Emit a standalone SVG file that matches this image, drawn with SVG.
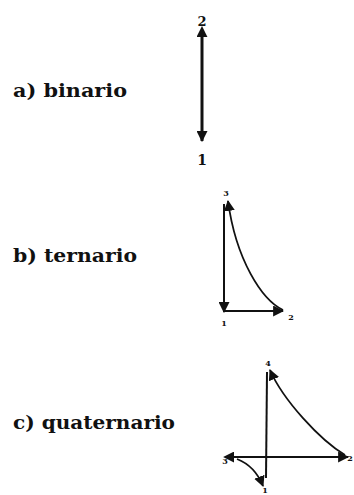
<svg xmlns="http://www.w3.org/2000/svg" width="354" height="495" viewBox="0 0 354 495">
<defs>
<style>
.lbl{font-family:"DejaVu Serif","Liberation Serif",serif;font-weight:bold;font-size:19px;fill:#111}
.num{font-family:"DejaVu Serif","Liberation Serif",serif;font-weight:bold;fill:#111;text-anchor:middle}
.ln{fill:none;stroke:#111;stroke-linecap:butt}
</style>
<marker id="ah" viewBox="0 0 10 10" refX="9" refY="5" markerWidth="11" markerHeight="11" markerUnits="userSpaceOnUse" orient="auto">
<path d="M0,0 L10,5 L0,10 z" fill="#111"/>
</marker>
<marker id="ahs" viewBox="0 0 10 10" refX="1" refY="5" markerWidth="11" markerHeight="11" markerUnits="userSpaceOnUse" orient="auto-start-reverse">
<path d="M0,0 L10,5 L0,10 z" fill="#111"/>
</marker>
</defs>
<rect width="354" height="495" fill="#fff"/>
<g id="label-a"><text class="lbl" x="13" y="97" textLength="114" lengthAdjust="spacingAndGlyphs">a) binario</text></g>
<g id="label-b"><text class="lbl" x="13" y="262" textLength="124" lengthAdjust="spacingAndGlyphs">b) ternario</text></g>
<g id="label-c"><text class="lbl" x="13" y="429" textLength="162" lengthAdjust="spacingAndGlyphs">c) quaternario</text></g>
<g id="bin-nodes">
<text class="num" x="202" y="26" font-size="13">2</text>
<text class="num" x="202" y="165" font-size="14">1</text>
</g>
<g id="ter-nodes">
<text class="num" x="226" y="196" font-size="8">3</text>
<text class="num" x="224" y="326" font-size="8">1</text>
<text class="num" x="291" y="320" font-size="8">2</text>
</g>
<g id="quat-nodes">
<text class="num" x="268" y="366" font-size="8">4</text>
<text class="num" x="225" y="464" font-size="8">3</text>
<text class="num" x="265" y="493" font-size="8">1</text>
<text class="num" x="350" y="461" font-size="8">2</text>
</g>
<g id="connectors">
<line class="ln" x1="202" y1="36" x2="202" y2="141" stroke-width="3" marker-start="url(#ahs)" marker-end="url(#ah)"/>
<line class="ln" x1="224" y1="204" x2="224" y2="312" stroke-width="2" marker-end="url(#ah)"/>
<line class="ln" x1="224" y1="311" x2="283" y2="311" stroke-width="2" marker-end="url(#ah)"/>
<path class="ln" d="M283,310 C262,300 236,260 228,201" stroke-width="1.8" marker-end="url(#ah)"/>
<line class="ln" x1="267" y1="372" x2="266" y2="478" stroke-width="2"/>
<line class="ln" x1="233" y1="457" x2="348" y2="457" stroke-width="2" marker-start="url(#ahs)" marker-end="url(#ah)"/>
<path class="ln" d="M345,455 C320,440 283,400 270,370" stroke-width="1.8" marker-end="url(#ah)"/>
<path class="ln" d="M237,459 Q255,466 263,486" stroke-width="1.8" marker-end="url(#ah)"/>
</g>
</svg>
